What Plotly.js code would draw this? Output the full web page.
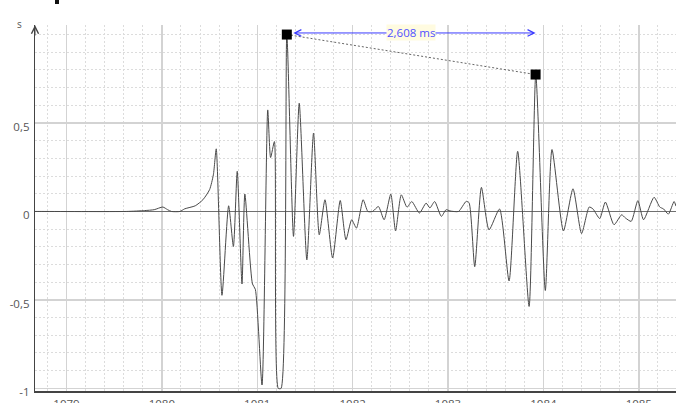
<!DOCTYPE html>
<html>
<head>
<meta charset="utf-8">
<script src="https://cdn.plot.ly/plotly-3.0.1.min.js"></script>
<style>html,body{margin:0;padding:0;background:#fff;}#chart{width:676px;height:403px;}</style>
</head>
<body>
<div id="chart"></div>
<script>
// Waveform samples (time in ms, amplitude)
const timeMs = [1078.67,1078.72,1079.63,1079.82,1079.92,1080.01,1080.06,1080.10,1080.19,1080.24,1080.35,1080.43,1080.50,1080.54,1080.57,1080.63,1080.70,1080.75,1080.79,1080.84,1080.87,1080.95,1080.98,1081.05,1081.11,1081.14,1081.18,1081.22,1081.25,1081.31,1081.38,1081.44,1081.52,1081.59,1081.65,1081.71,1081.79,1081.87,1081.93,1081.99,1082.04,1082.11,1082.16,1082.21,1082.27,1082.33,1082.40,1082.45,1082.51,1082.57,1082.62,1082.70,1082.77,1082.81,1082.86,1082.93,1082.98,1083.02,1083.11,1083.19,1083.22,1083.28,1083.35,1083.43,1083.54,1083.64,1083.73,1083.85,1083.92,1084.02,1084.09,1084.21,1084.31,1084.40,1084.48,1084.52,1084.59,1084.65,1084.74,1084.82,1084.86,1084.92,1084.99,1085.05,1085.16,1085.22,1085.26,1085.31,1085.37,1085.39];
const amplitude = [0,0,0,0.005,0.01,0.025,0.01,0,0,0.015,0.032,0.066,0.123,0.207,0.354,-0.474,0.032,-0.198,0.227,-0.41,0.098,-0.41,-0.44,-0.981,0.574,0.305,0.395,-1.0,-1.0,1.0,-0.141,0.612,-0.274,0.443,-0.132,0.066,-0.263,0.062,-0.16,-0.047,-0.094,0.066,0,0,0.028,-0.047,0.098,-0.11,0.094,0.024,0.056,-0.009,0.047,0.02,0.056,-0.028,0.01,0.003,0,0.057,0.05,-0.312,0.136,-0.104,0.014,-0.393,0.34,-0.537,0.774,-0.447,0.35,-0.11,0.128,-0.125,0.025,0.014,-0.04,0.053,-0.075,-0.019,-0.037,-0.056,0.061,-0.047,0.08,0.025,0.014,-0.015,0.056,0.03];

// Cursor markers and measurement
const cursorX = [1081.31, 1083.918];
const cursorY = [1.0, 0.774];
const measureLabel = '2,608 ms';
const measureY = 1.009;

// Axis tick labels
const yTickVals = [-1, -0.5, 0, 0.5];
const yTickText = ['-1', '-0,5', '0', '0,5'];
const xTickVals = [1079, 1080, 1081, 1082, 1083, 1084, 1085];
const xTickText = ['1079', '1080', '1081', '1082', '1083', '1084', '1085'];

const tickFont = {family: 'Open Sans, Noto Sans, sans-serif', size: 11.5, color: '#555'};

const traces = [
  {
    x: timeMs, y: amplitude, type: 'scatter', mode: 'lines',
    line: {color: '#4a4a4a', width: 1, shape: 'spline', smoothing: 0.6}, hoverinfo: 'skip'
  },
  {
    x: cursorX, y: cursorY, type: 'scatter', mode: 'lines+markers',
    line: {color: '#666', width: 1, dash: '2px,2px'},
    marker: {symbol: 'square', size: 10, color: '#000'}, hoverinfo: 'skip'
  }
];

const layout = {
  width: 676, height: 403,
  margin: {l: 35, r: 0, t: 25, b: 12, pad: 0},
  paper_bgcolor: '#fff', plot_bgcolor: '#fff',
  showlegend: false,
  separators: ', ',
  xaxis: {
    range: [1078.67, 1085.39],
    tickmode: 'array', tickvals: xTickVals, ticktext: xTickText,
    showgrid: true, gridcolor: '#d3d3d3', gridwidth: 1.5,
    minor: {tickmode: 'linear', tick0: 0, dtick: 0.2, showgrid: true, gridcolor: '#dcdcdc', griddash: '2px,2px', gridwidth: 1},
    showline: true, linecolor: '#444', linewidth: 1.5,
    zeroline: false, ticks: '', tickfont: tickFont, ticklabelstandoff: 2
  },
  yaxis: {
    range: [-1.015, 1.054],
    tickmode: 'array', tickvals: yTickVals, ticktext: yTickText,
    showgrid: true, gridcolor: '#d3d3d3', gridwidth: 1.5,
    minor: {tickmode: 'linear', tick0: 0, dtick: 0.1, showgrid: true, gridcolor: '#dcdcdc', griddash: '2px,2px', gridwidth: 1},
    zeroline: true, zerolinecolor: '#707070', zerolinewidth: 1.5,
    showline: true, linecolor: '#444', linewidth: 1.2,
    ticks: '', tickfont: tickFont, ticklabelshift: 4, ticklabelstandoff: 2
  },
  annotations: [
    {
      x: cursorX[1], y: measureY, ax: cursorX[0], ay: measureY,
      xref: 'x', yref: 'y', axref: 'x', ayref: 'y',
      text: '', showarrow: true, arrowside: 'end+start',
      arrowhead: 5, startarrowhead: 5, arrowsize: 1.3, startarrowsize: 1.3,
      arrowwidth: 1, arrowcolor: '#3a3aff', standoff: 0, startstandoff: 5
    },
    {
      x: (cursorX[0] + cursorX[1]) / 2, y: measureY, xref: 'x', yref: 'y',
      text: measureLabel, showarrow: false,
      font: {family: 'Open Sans, Noto Sans, sans-serif', size: 11.5, color: '#5050ff'},
      bgcolor: '#fffbe0', borderpad: 0
    },
    {
      x: 0, y: 1, xref: 'paper', yref: 'paper', ax: 0, ay: 12,
      text: '', showarrow: true, arrowhead: 5, arrowsize: 1.4, arrowwidth: 1,
      arrowcolor: '#444', standoff: 0
    },
    {
      x: (15 - 35) / 641, y: 1 + (25 - 15) / 366, xref: 'paper', yref: 'paper', text: 's', showarrow: false,
      font: {family: 'Open Sans, Noto Sans, sans-serif', size: 10, color: '#555'}
    }
  ],
  shapes: [
    {type: 'rect', xref: 'paper', yref: 'paper', x0: 20/641, x1: 24/641, y0: 1 + 21/366, y1: 1 + 26/366, fillcolor: '#111', line: {width: 0}}
  ]
};

Plotly.newPlot('chart', traces, layout, {staticPlot: true, displayModeBar: false});
</script>
</body>
</html>
